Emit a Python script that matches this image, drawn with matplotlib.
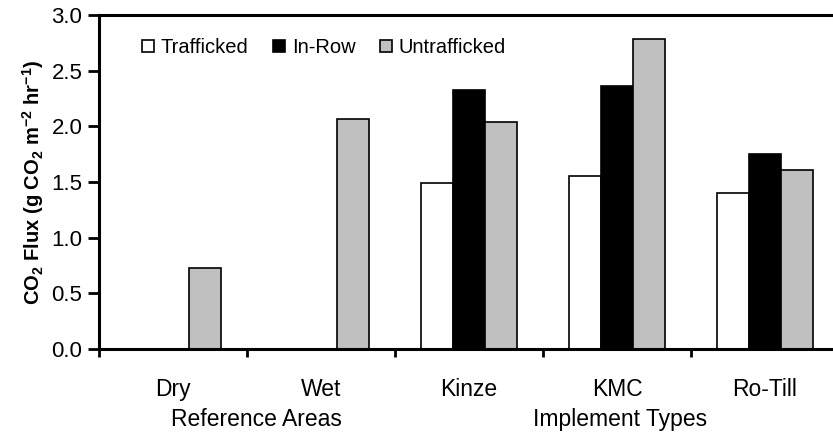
import numpy as np
import matplotlib
matplotlib.use("Agg")
import matplotlib.pyplot as plt

plt.rcParams['font.family'] = ['Liberation Sans', 'DejaVu Sans']
plt.rcParams['mathtext.fontset'] = 'custom'
plt.rcParams['mathtext.rm'] = 'Liberation Sans:bold'
plt.rcParams['mathtext.bf'] = 'Liberation Sans:bold'
plt.rcParams['mathtext.default'] = 'bf'

categories = ['Dry', 'Wet', 'Kinze', 'KMC', 'Ro-Till']
trafficked = [np.nan, np.nan, 1.49, 1.55, 1.40]
in_row = [np.nan, np.nan, 2.33, 2.36, 1.75]
untrafficked = [0.73, 2.07, 2.04, 2.78, 1.61]
series_names = ['Trafficked', 'In-Row', 'Untrafficked']
group_labels = ['Reference Areas', 'Implement Types']

fig = plt.figure(figsize=(8.33, 4.34), dpi=100)
ax = fig.add_axes([99 / 833, 85 / 434, 740 / 833, 334 / 434])

x = np.arange(len(categories))
w = 0.215
colors = ['white', 'black', '#c0c0c0']
for i, (vals, name) in enumerate(zip([trafficked, in_row, untrafficked], series_names)):
    ax.bar(x + (i - 1) * w, vals, w, color=colors[i], edgecolor='black',
           linewidth=1.2, label=name)

ax.set_xlim(-0.5, len(categories) - 0.5)
ax.set_ylim(0, 3.0)
ax.set_yticks(np.arange(0, 3.01, 0.5))
ax.set_yticklabels([f'{v:.1f}' for v in np.arange(0, 3.01, 0.5)])
ax.set_xticks(x)
ax.set_xticklabels(categories)
ax.set_xticks(np.arange(-0.5, len(categories)), minor=True)
ax.tick_params(axis='x', which='major', length=0, pad=21, labelsize=16.5)
ax.tick_params(axis='x', which='minor', length=6, width=2, direction='out')
ax.tick_params(axis='y', length=8, width=2, direction='out', labelsize=16, pad=4)

for side in ['left', 'bottom', 'top']:
    ax.spines[side].set_linewidth(2.2)
ax.spines['right'].set_visible(False)

ax.set_ylabel(r'CO$_2$ Flux (g CO$_2$ m$^{-2}$ hr$^{-1}$)', fontsize=14.5,
              fontweight='bold', labelpad=4)

ax.legend(ncol=3, frameon=False, loc='upper left', bbox_to_anchor=(0.033, 0.985),
          fontsize=14.5, handlelength=0.6, handleheight=0.6, handletextpad=0.35,
          columnspacing=1.2)

fig.text(256 / 833, 8 / 434, group_labels[0], ha='center', va='baseline', fontsize=16.5)
fig.text(620 / 833, 8 / 434, group_labels[1], ha='center', va='baseline', fontsize=16.5)

fig.savefig('out.png', dpi=100)
